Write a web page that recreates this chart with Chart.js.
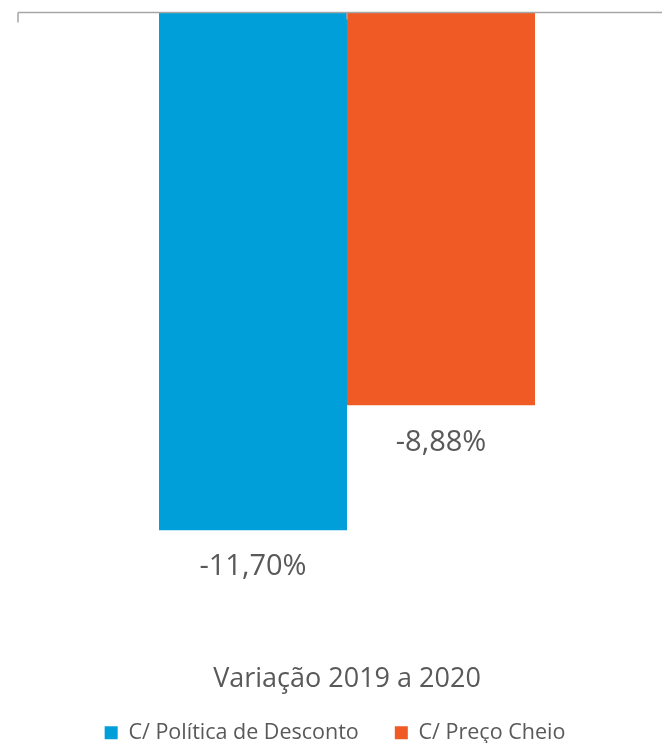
<!DOCTYPE html>
<html>
<head>
<meta charset="utf-8">
<script src="https://cdn.jsdelivr.net/npm/chart.js@4/dist/chart.umd.min.js"></script>
<style>
  html, body { margin: 0; padding: 0; background: #fff; overflow: hidden; }
  #wrap { width: 676px; height: 743px; }
</style>
</head>
<body>
<div id="wrap"><canvas id="my_graph"></canvas></div>
<script>
const categories = ['Variação 2019 a 2020'];
const seriesNames = ['C/ Política de Desconto', 'C/ Preço Cheio'];
const descontoValues = [-11.70];
const precoCheioValues = [-8.88];
const seriesColors = ['#009FDA', '#F05A24'];

const textColor = '#595959';
const axisColor = '#A6A6A6';
const fontFamily = "'Open Sans', sans-serif";

// zero line on top + small tick marks, like the excel axis
const zeroAxis = {
  id: 'zeroAxis',
  afterDatasetsDraw(chart) {
    const { ctx, scales: { x, y } } = chart;
    const y0 = Math.round(y.getPixelForValue(0)) + 0.5;
    ctx.save();
    ctx.strokeStyle = axisColor;
    ctx.lineWidth = 1.5;
    ctx.beginPath();
    ctx.moveTo(x.left, y0);
    ctx.lineTo(x.right, y0);
    ctx.moveTo(x.left, y0);
    ctx.lineTo(x.left, y0 + 10);
    const xc = x.getPixelForValue(0);
    ctx.moveTo(xc, y0);
    ctx.lineTo(xc, y0 + 7);
    ctx.stroke();
    ctx.restore();
  }
};

// value labels under each bar
const barLabels = {
  id: 'barLabels',
  afterDatasetsDraw(chart) {
    const { ctx } = chart;
    ctx.save();
    ctx.fillStyle = textColor;
    ctx.font = "29px " + fontFamily;
    ctx.textAlign = 'center';
    ctx.textBaseline = 'middle';
    chart.data.datasets.forEach((ds, i) => {
      chart.getDatasetMeta(i).data.forEach((bar, j) => {
        const txt = ds.data[j].toFixed(2).replace('.', ',') + '%';
        ctx.fillText(txt, bar.x, bar.y + 37);
      });
    });
    ctx.restore();
  }
};

// legend needs a wide gap between items but little height,
// and sits a bit left of the plot centre
const legendPlace = {
  id: 'legendPlace',
  beforeInit(chart) {
    const legend = chart.legend;
    if (!legend) return;
    const fit = legend.fit;
    legend.fit = function () {
      fit.call(this);
      this.height = 41;
    };
  },
  afterLayout(chart) {
    const legend = chart.legend;
    if (!legend) return;
    legend.left = 0;
    legend.right = 670;
    legend.width = 670;
    legend.top -= 16;
    legend.height = legend.bottom - legend.top;
  }
};

const data = {
  labels: categories,
  datasets: [
    {
      label: seriesNames[0],
      data: descontoValues,
      backgroundColor: seriesColors[0],
      borderWidth: 0
    },
    {
      label: seriesNames[1],
      data: precoCheioValues,
      backgroundColor: seriesColors[1],
      borderWidth: 0
    }
  ]
};

const confg = {
  type: 'bar',
  data,
  options: {
    responsive: true,
    maintainAspectRatio: false,
    animation: false,
    datasets: {
      bar: {
        barPercentage: 1,
        categoryPercentage: 0.5714
      }
    },
    layout: {
      padding: { left: 18, right: 0, top: 12, bottom: 0 }
    },
    scales: {
      x: {
        grid: { display: false, drawTicks: false },
        border: { display: false },
        ticks: {
          color: textColor,
          font: { family: fontFamily, size: 27 },
          padding: 31
        },
        afterFit: (scale) => { scale.height = 70; }
      },
      y: {
        display: false,
        min: -14,
        max: 0
      }
    },
    plugins: {
      tooltip: { enabled: false },
      legend: {
        position: 'bottom',
        labels: {
          color: textColor,
          font: { family: fontFamily, size: 21.5 },
          boxWidth: 13,
          boxHeight: 13,
          padding: 36
        }
      }
    }
  },
  plugins: [zeroAxis, barLabels, legendPlace]
};

new Chart(document.getElementById('my_graph'), confg);
</script>
</body>
</html>
